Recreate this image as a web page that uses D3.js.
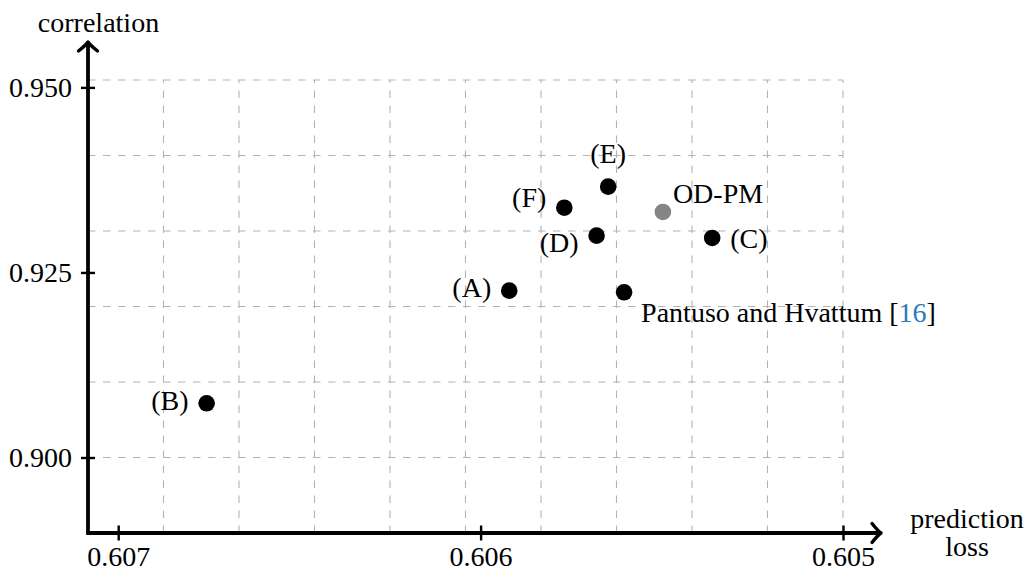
<!DOCTYPE html>
<html>
<head>
<meta charset="utf-8">
<script src="https://cdn.jsdelivr.net/npm/d3@7"></script>
<style>
  html, body { margin: 0; padding: 0; background: #fff; }
  svg { display: block; }
  text { font-family: "Liberation Serif", "Times New Roman", serif; fill: #000; }
</style>
</head>
<body>
<svg id="chart" width="1031" height="572"></svg>
<script>
// ---- data ----
const methods      = ["(A)", "(B)", "(C)", "(D)", "(E)", "(F)", "Pantuso and Hvattum", "OD-PM"];
const predLoss     = [0.605921, 0.606756, 0.605361, 0.605680, 0.605648, 0.605769, 0.605604, 0.605497];
const correlation  = [0.92254, 0.90732, 0.92966, 0.92997, 0.93659, 0.93375, 0.92232, 0.93317];
const highlighted  = ["OD-PM"];
const xTickValues  = [0.607, 0.606, 0.605];
const yTickValues  = [0.900, 0.925, 0.950];
const citation     = "16";

// ---- layout / style ----
const xGridStep = 0.001 / 4.8, xCells = 10;
const yGridStep = 0.0102, yCells = 6;
const xRight = 0.605, xLeft = xRight + xCells * xGridStep;
const yBottom = 0.8898, yTop = yBottom + yCells * yGridStep;

const x = d3.scaleLinear().domain([xLeft, xRight]).range([88, 843]);
const y = d3.scaleLinear().domain([yBottom, yTop]).range([533, 80]);

const xGrid = d3.range(0, xCells + 1).map(k => xRight + k * xGridStep);
const yGrid = d3.range(0, yCells + 1).map(k => yBottom + k * yGridStep);

// label placement (text-anchor, dx, dy from point centre)
const labelPlace = {
  "(A)": ["end", -18, 6.5],
  "(B)": ["end", -18, 6.5],
  "(C)": ["start", 18, 10],
  "(D)": ["end", -18, 16],
  "(E)": ["middle", 0, -24],
  "(F)": ["end", -18, -1],
  "Pantuso and Hvattum": ["start", 17, 30],
  "OD-PM": ["start", 10, -9]
};

const svg = d3.select("#chart");
const FS = 28;

// grid
const grid = svg.append("g").attr("stroke", "#b3b3b3").attr("stroke-width", 1.1)
  .attr("stroke-dasharray", "7.5,7.5").attr("fill", "none");
grid.selectAll("line.v").data(xGrid).join("line").attr("class", "v")
  .attr("x1", d => x(d)).attr("x2", d => x(d))
  .attr("y1", y(yBottom)).attr("y2", y(yTop));
grid.selectAll("line.h").data(yGrid).join("line").attr("class", "h")
  .attr("x1", x(xLeft)).attr("x2", x(xRight))
  .attr("y1", d => y(d)).attr("y2", d => y(d));

// axes with d3
const xAxis = d3.axisBottom(x).tickValues(xTickValues).tickFormat(d3.format(".3f"));
const gx = svg.append("g").attr("transform", `translate(0,${y(yBottom)})`).call(xAxis);
gx.select(".domain").remove();
gx.selectAll(".tick line").attr("y1", -7.5).attr("y2", 7.5).attr("stroke", "#000").attr("stroke-width", 2.4);
gx.selectAll(".tick text").attr("y", 32.5).attr("dy", 0).style("font-size", FS + "px")
  .style("font-family", '"Liberation Serif", serif').attr("fill", "#000");

const yAxis = d3.axisLeft(y).tickValues(yTickValues).tickFormat(d3.format(".3f"));
const gy = svg.append("g").attr("transform", `translate(${x(xLeft)},0)`).call(yAxis);
gy.select(".domain").remove();
gy.selectAll(".tick line").attr("x1", -7).attr("x2", 7).attr("stroke", "#000").attr("stroke-width", 2.4);
gy.selectAll(".tick text").attr("x", -16).attr("dy", "0.33em").style("font-size", FS + "px")
  .style("font-family", '"Liberation Serif", serif').attr("fill", "#000");

// axis lines with arrow heads
const ax = svg.append("g").attr("stroke", "#000").attr("stroke-width", 3.8).attr("fill", "none")
  .attr("stroke-linecap", "round").attr("stroke-linejoin", "round");
const x0 = x(xLeft), y0 = y(yBottom);
ax.append("line").attr("x1", x0 - 1.5).attr("y1", y0).attr("x2", 879).attr("y2", y0).attr("stroke-linecap", "butt");
ax.append("line").attr("x1", x0).attr("y1", y0 + 1.5).attr("x2", x0).attr("y2", 44).attr("stroke-linecap", "butt");
ax.append("path").attr("stroke-width", 3.4)
  .attr("d", `M${881 - 9},${y0 - 9.5} Q${881 - 3},${y0 - 2} ${881},${y0} Q${881 - 3},${y0 + 2} ${881 - 9},${y0 + 9.5}`);
ax.append("path").attr("stroke-width", 3.4)
  .attr("d", `M${x0 - 9.5},${42 + 9} Q${x0 - 2},${42 + 3} ${x0},${42} Q${x0 + 2},${42 + 3} ${x0 + 9.5},${42 + 9}`);

// axis titles
svg.append("text").attr("x", 98.5).attr("y", 32).attr("text-anchor", "middle")
  .style("font-size", FS + "px").text("correlation");
svg.append("text").attr("x", 967).attr("y", 528).attr("text-anchor", "middle")
  .style("font-size", FS + "px").text("prediction");
svg.append("text").attr("x", 967).attr("y", 556).attr("text-anchor", "middle")
  .style("font-size", FS + "px").text("loss");

// points
const pts = methods.map((m, i) => ({ name: m, lx: predLoss[i], cy: correlation[i] }));
svg.append("g").selectAll("circle").data(pts).join("circle")
  .attr("cx", d => x(d.lx)).attr("cy", d => y(d.cy)).attr("r", 8.3)
  .attr("fill", d => highlighted.includes(d.name) ? "#858585" : "#000");

// labels
const lab = svg.append("g").selectAll("text").data(pts).join("text")
  .attr("x", d => x(d.lx) + labelPlace[d.name][1])
  .attr("y", d => y(d.cy) + labelPlace[d.name][2])
  .attr("text-anchor", d => labelPlace[d.name][0])
  .style("font-size", FS + "px");
lab.each(function (d) {
  const t = d3.select(this);
  if (d.name === "Pantuso and Hvattum") {
    t.append("tspan").text(d.name + " [");
    t.append("tspan").attr("fill", "#2b7bb9").style("fill", "#2b7bb9").text(citation);
    t.append("tspan").text("]");
  } else {
    t.text(d.name);
  }
});
</script>
</body>
</html>
